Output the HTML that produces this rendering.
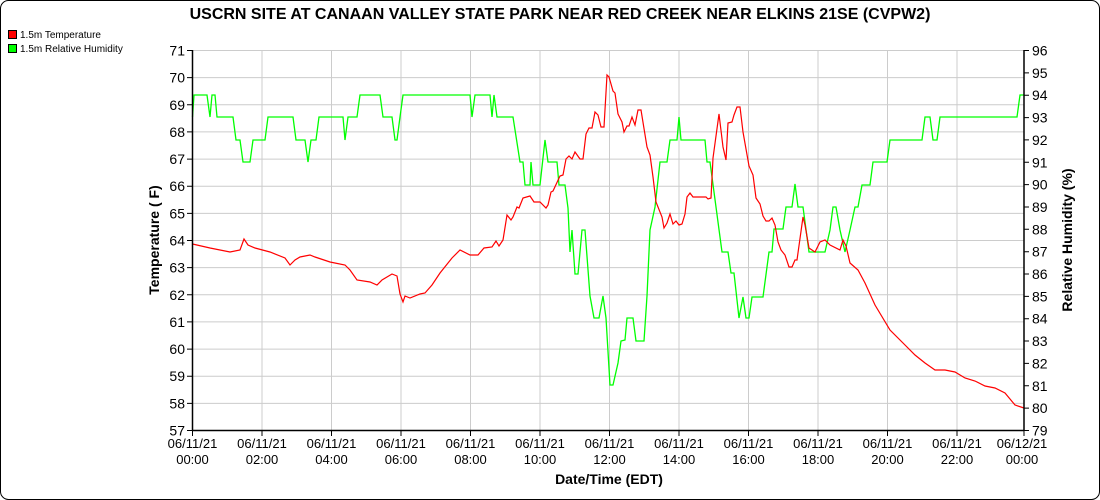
<!DOCTYPE html>
<html><head><meta charset="utf-8"><style>
body{margin:0;background:#fff;}
svg{display:block;font-family:"Liberation Sans",sans-serif;}
</style></head><body>
<svg width="1100" height="500" viewBox="0 0 1100 500">
<rect x="0.5" y="0.5" width="1099" height="499" rx="8" fill="#fff" stroke="#000"/>
<text x="560" y="19" text-anchor="middle" font-weight="bold" font-size="16">USCRN SITE AT CANAAN VALLEY STATE PARK NEAR RED CREEK NEAR ELKINS 21SE (CVPW2)</text>
<rect x="8.5" y="30.5" width="8" height="8" fill="#f00" stroke="#000"/>
<text x="20" y="38" font-size="10">1.5m Temperature</text>
<rect x="8.5" y="44.5" width="8" height="8" fill="#0f0" stroke="#000"/>
<text x="20" y="52" font-size="10">1.5m Relative Humidity</text>
<g stroke="#ccc" stroke-width="1">
<line x1="192" x2="1024" y1="77.6" y2="77.6"/><line x1="192" x2="1024" y1="104.8" y2="104.8"/><line x1="192" x2="1024" y1="131.9" y2="131.9"/><line x1="192" x2="1024" y1="159.1" y2="159.1"/><line x1="192" x2="1024" y1="186.2" y2="186.2"/><line x1="192" x2="1024" y1="213.4" y2="213.4"/><line x1="192" x2="1024" y1="240.5" y2="240.5"/><line x1="192" x2="1024" y1="267.6" y2="267.6"/><line x1="192" x2="1024" y1="294.8" y2="294.8"/><line x1="192" x2="1024" y1="321.9" y2="321.9"/><line x1="192" x2="1024" y1="349.1" y2="349.1"/><line x1="192" x2="1024" y1="376.2" y2="376.2"/><line x1="192" x2="1024" y1="403.4" y2="403.4"/><line x1="192" x2="1024" y1="50.5" y2="50.5"/>
<line x1="262" x2="262" y1="50" y2="430"/><line x1="331.5" x2="331.5" y1="50" y2="430"/><line x1="401" x2="401" y1="50" y2="430"/><line x1="470.5" x2="470.5" y1="50" y2="430"/><line x1="540" x2="540" y1="50" y2="430"/><line x1="609.5" x2="609.5" y1="50" y2="430"/><line x1="679" x2="679" y1="50" y2="430"/><line x1="748.5" x2="748.5" y1="50" y2="430"/><line x1="818" x2="818" y1="50" y2="430"/><line x1="887.5" x2="887.5" y1="50" y2="430"/><line x1="957" x2="957" y1="50" y2="430"/>
</g>
<polyline fill="none" stroke="#0f0" stroke-width="1.3" points="192.5,117 194,95 207,95 210,117 212,95 215,95 217,117 233,117 236,140 240,140 243,162 250,162 253,140 265,140 268,117 293,117 296,140 305,140 308,162 311,140 316,140 319,117 343,117 345,140 348,117 357,117 360,95 380,95 383,117 392,117 395,140 397,140 400,117 403,95 470,95 472,117 475,95 490,95 492,117 494,95 497,117 513,117 520,162 523,162 525,185 530,185 531,162 533,185 540,185 545,140 548,162 557,162 559,185 565,185 568,208 570,252 572,230 575,274 578,274 582,230 585,230 590,296 594,318 599,318 603,296 606,318 610,385 613,385 618,363 621,341 625,340 627,318 633,318 636,341 644,341 647,296 650,230 655,207 660,162 667,162 670,140 677,140 679,117 681,140 705,140 707,162 710,162 722,252 728,252 731,273 734,273 739,318 743,297 746,318 749,318 752,297 763,297 769,252 772,252 774,229 783,229 786,207 792,207 795,184 798,207 803,207 809,252 825,252 830,230 833,207 836,207 840,230 845,252 850,230 855,207 858,207 862,185 870,185 873,162 887,162 890,140 922,140 925,117 930,117 933,140 937,140 940,117 1017,117 1020,95 1024,95"/>
<polyline fill="none" stroke="#f00" stroke-width="1.2" points="192.5,244 210,248 230,252 240,250 244,239 248,245 255,248 270,252 285,258 290,265 295,260 300,257 310,255 315,257 330,262 345,265 350,270 357,280 370,282 377,285 382,280 392,274 397,276 400,294 403,302 405,296 410,298 420,294 425,293 432,285 440,273 452,258 460,250 470,255 478,255 484,248 492,247 496,241 499,246 503,240 507,215 511,220 513,217 517,207 519,208 523,198 530,196 534,202 540,202 546,208 548,205 551,192 553,191 560,176 563,175 566,159 569,156 572,159 575,152 580,159 583,159 586,134 589,128 592,128 595,112 598,115 601,127 604,127 607,75 609,77 613,91 615,93 618,114 622,122 624,132 627,126 629,126 632,117 635,125 638,110 641,110 647,147 650,155 653,177 656,202 662,217 664,228 667,223 670,214 673,224 676,221 679,225 682,224 685,214 687,197 690,193 693,197 706,197 708,199 711,198 713,158 719,114 723,147 726,160 728,123 732,122 734,115 737,107 740,107 743,132 749,166 753,175 756,198 760,204 763,216 766,221 769,221 772,218 775,225 778,242 781,250 785,255 789,267 792,267 795,260 797,260 803,217 805,225 809,248 815,252 820,242 825,240 830,245 840,250 843,240 846,246 850,263 858,270 865,283 875,305 890,330 905,345 915,355 925,363 935,370 945,370 955,372 965,378 975,381 985,386 995,388 1005,393 1015,405 1024,408"/>
<g stroke="#000" stroke-width="1.5" fill="none">
<line x1="192.5" y1="50" x2="192.5" y2="431"/><line x1="1024" y1="50" x2="1024" y2="431"/><line x1="192" y1="430.5" x2="1024.5" y2="430.5"/>
</g>
<g stroke="#000" stroke-width="1">
<path d="M187 50.5h5M187 77.6h5M187 104.8h5M187 131.9h5M187 159.1h5M187 186.2h5M187 213.4h5M187 240.5h5M187 267.6h5M187 294.8h5M187 321.9h5M187 349.1h5M187 376.2h5M187 403.4h5M187 430.5h5"/>
<path d="M1024 50.5h5M1024 72.9h5M1024 95.2h5M1024 117.6h5M1024 139.9h5M1024 162.3h5M1024 184.6h5M1024 207h5M1024 229.3h5M1024 251.7h5M1024 274h5M1024 296.4h5M1024 318.7h5M1024 341h5M1024 363.4h5M1024 385.8h5M1024 408.1h5M1024 430.5h5"/>
<path d="M192.5 430v6M262 430v6M331.5 430v6M401 430v6M470.5 430v6M540 430v6M609.5 430v6M679 430v6M748.5 430v6M818 430v6M887.5 430v6M957 430v6M1024 430v6"/>
</g>
<g font-size="14" text-anchor="end">
<text x="185" y="55.5">71</text><text x="185" y="82.6">70</text><text x="185" y="109.8">69</text><text x="185" y="136.9">68</text><text x="185" y="164.1">67</text><text x="185" y="191.2">66</text><text x="185" y="218.4">65</text><text x="185" y="245.5">64</text><text x="185" y="272.6">63</text><text x="185" y="299.8">62</text><text x="185" y="326.9">61</text><text x="185" y="354.1">60</text><text x="185" y="381.2">59</text><text x="185" y="408.4">58</text><text x="185" y="435.5">57</text>
</g>
<g font-size="14">
<text x="1032" y="55.5">96</text><text x="1032" y="77.9">95</text><text x="1032" y="100.2">94</text><text x="1032" y="122.6">93</text><text x="1032" y="144.9">92</text><text x="1032" y="167.3">91</text><text x="1032" y="189.6">90</text><text x="1032" y="212">89</text><text x="1032" y="234.3">88</text><text x="1032" y="256.7">87</text><text x="1032" y="279">86</text><text x="1032" y="301.4">85</text><text x="1032" y="323.7">84</text><text x="1032" y="346">83</text><text x="1032" y="368.4">82</text><text x="1032" y="390.8">81</text><text x="1032" y="413.1">80</text><text x="1032" y="435.5">79</text>
</g>
<g font-size="13" text-anchor="middle">
<text x="192.5" y="448">06/11/21</text><text x="192.5" y="464">00:00</text>
<text x="262" y="448">06/11/21</text><text x="262" y="464">02:00</text>
<text x="331.5" y="448">06/11/21</text><text x="331.5" y="464">04:00</text>
<text x="401" y="448">06/11/21</text><text x="401" y="464">06:00</text>
<text x="470.5" y="448">06/11/21</text><text x="470.5" y="464">08:00</text>
<text x="540" y="448">06/11/21</text><text x="540" y="464">10:00</text>
<text x="609.5" y="448">06/11/21</text><text x="609.5" y="464">12:00</text>
<text x="679" y="448">06/11/21</text><text x="679" y="464">14:00</text>
<text x="748.5" y="448">06/11/21</text><text x="748.5" y="464">16:00</text>
<text x="818" y="448">06/11/21</text><text x="818" y="464">18:00</text>
<text x="887.5" y="448">06/11/21</text><text x="887.5" y="464">20:00</text>
<text x="957" y="448">06/11/21</text><text x="957" y="464">22:00</text>
<text x="1022" y="448">06/12/21</text><text x="1022" y="464">00:00</text>
</g>
<text x="609" y="484" text-anchor="middle" font-weight="bold" font-size="14">Date/Time (EDT)</text>
<text transform="translate(159,240) rotate(-90)" text-anchor="middle" font-weight="bold" font-size="14">Temperature ( F)</text>
<text transform="translate(1072,240) rotate(-90)" text-anchor="middle" font-weight="bold" font-size="14">Relative Humidity (%)</text>
</svg>
</body></html>
